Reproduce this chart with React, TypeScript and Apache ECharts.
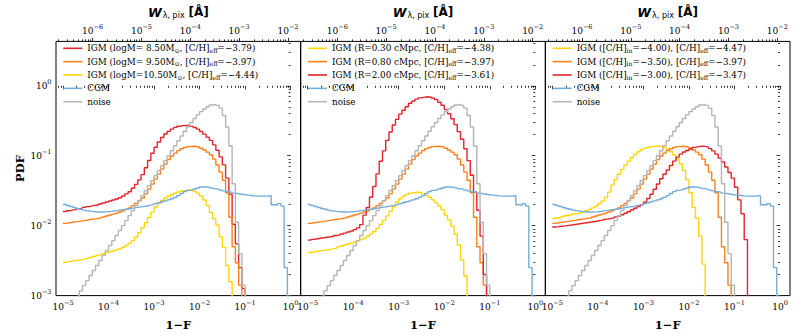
import React, { useEffect, useRef } from "react";
import * as echarts from "echarts";

// Histogram bins in log10(1-F): 70 equal bins from 1e-5 to 1e0
const binStart = -5;
const binEnd = 0;

// PDF per bin
const noisePdf = [
  0.00052, 0.00062, 0.00072, 0.00085, 0.00097, 0.00117, 0.00139, 0.00164, 0.00194, 0.00229,
  0.00269, 0.00317, 0.00374, 0.00441, 0.0052, 0.00612, 0.00723, 0.00851, 0.01, 0.0118,
  0.0139, 0.0164, 0.0194, 0.0229, 0.0269, 0.0317, 0.0374, 0.0441, 0.052, 0.0612,
  0.0723, 0.0851, 0.1, 0.118, 0.139, 0.164, 0.192, 0.224, 0.26, 0.299,
  0.34, 0.384, 0.428, 0.467, 0.501, 0.531, 0.54, 0.525, 0.479, 0.376,
  0.257, 0.138, 0.0398, 0.0112, 0.00398, 0.00141, 0, 0, 0, 0,
  0, 0, 0, 0, 0, 0, 0, 0, 0, 0,
];
const cgmPdf = [
  0.0201, 0.01945, 0.0188, 0.0182, 0.01762, 0.01714, 0.0167, 0.0163, 0.016, 0.0158,
  0.01567, 0.01567, 0.01574, 0.01585, 0.016, 0.01626, 0.01652, 0.0168, 0.01706, 0.01734,
  0.01762, 0.01795, 0.01824, 0.01854, 0.01884, 0.01923, 0.01968, 0.02014, 0.02065, 0.02123,
  0.02193, 0.02265, 0.02339, 0.02432, 0.02541, 0.02692, 0.02891, 0.03069, 0.03199, 0.0325,
  0.03342, 0.03451, 0.03565, 0.03589, 0.03556, 0.03467, 0.03381, 0.03304, 0.03221, 0.03141,
  0.03062, 0.02992, 0.02917, 0.02858, 0.02812, 0.02767, 0.02729, 0.02698, 0.02667, 0.02642,
  0.02642, 0.02649, 0.0266, 0.02685, 0.01995, 0.01972, 0.02065, 0.01905, 0.00251, 0.00098,
];
const igmFiducialPdf = [
  0.01079, 0.01099, 0.01117, 0.01135, 0.01153, 0.01172, 0.01191, 0.01213, 0.01233, 0.01253,
  0.01274, 0.01294, 0.0133, 0.01374, 0.01419, 0.01462, 0.0151, 0.01567, 0.01633, 0.0171,
  0.01795, 0.01932, 0.02084, 0.0227, 0.02483, 0.02851, 0.03334, 0.03926, 0.04634, 0.05458,
  0.06442, 0.07586, 0.0879, 0.0991, 0.1089, 0.1183, 0.1256, 0.1312, 0.1349, 0.1365,
  0.1358, 0.133, 0.1282, 0.1208, 0.1125, 0.1035, 0.0893, 0.0736, 0.0583, 0.0447,
  0.0295, 0.0132, 0.005, 0.00295, 0.00141, 0, 0, 0, 0, 0,
  0, 0, 0, 0, 0, 0, 0, 0, 0, 0,
];
const igmLogM850Pdf = [
  0.01596, 0.01637, 0.01671, 0.01698, 0.01742, 0.01782, 0.01828, 0.01875, 0.01919, 0.01963,
  0.01995, 0.02046, 0.02109, 0.02178, 0.02249, 0.02323, 0.0241, 0.02512, 0.02661, 0.02844,
  0.03062, 0.03436, 0.039, 0.04519, 0.0537, 0.06745, 0.0855, 0.1084, 0.1324, 0.1574,
  0.182, 0.2042, 0.2234, 0.2404, 0.2541, 0.2636, 0.2692, 0.271, 0.2704, 0.263,
  0.2529, 0.2399, 0.2223, 0.2037, 0.1845, 0.166, 0.1432, 0.1197, 0.0962, 0.0741,
  0.0479, 0.0282, 0.01047, 0.0055, 0.00251, 0.00126, 0, 0, 0, 0,
  0, 0, 0, 0, 0, 0, 0, 0, 0, 0,
];
const igmLogM1050Pdf = [
  0.003, 0.00306, 0.00311, 0.00316, 0.00321, 0.00327, 0.00333, 0.00341, 0.0035, 0.00363,
  0.00373, 0.00385, 0.00397, 0.0041, 0.00424, 0.00437, 0.00451, 0.00468, 0.00491, 0.00521,
  0.00558, 0.00607, 0.00686, 0.00793, 0.00933, 0.011, 0.0131, 0.01563, 0.01845, 0.02075,
  0.02286, 0.02483, 0.0263, 0.02773, 0.02904, 0.03034, 0.03126, 0.03199, 0.03236, 0.03184,
  0.03076, 0.02917, 0.02649, 0.02328, 0.01945, 0.01549, 0.01259, 0.01023, 0.00692, 0.0049,
  0.00269, 0.00158, 0, 0, 0, 0, 0, 0, 0, 0,
  0, 0, 0, 0, 0, 0, 0, 0, 0, 0,
];
const igmR030Pdf = [
  0.00408, 0.00421, 0.0043, 0.00437, 0.00444, 0.00451, 0.00459, 0.00469, 0.00479, 0.00497,
  0.00513, 0.0053, 0.00546, 0.00562, 0.00585, 0.00608, 0.00634, 0.00661, 0.00705, 0.0076,
  0.00826, 0.00916, 0.01038, 0.01191, 0.0138, 0.016, 0.01866, 0.02163, 0.02427, 0.02636,
  0.02799, 0.02917, 0.02979, 0.03006, 0.02979, 0.02844, 0.0271, 0.02541, 0.02344, 0.02123,
  0.01923, 0.01694, 0.01416, 0.0121, 0.00986, 0.00759, 0.0053, 0.00324, 0.00191, 0,
  0, 0, 0, 0, 0, 0, 0, 0, 0, 0,
  0, 0, 0, 0, 0, 0, 0, 0, 0, 0,
];
const igmR200Pdf = [
  0.00621, 0.00637, 0.0065, 0.00661, 0.00671, 0.00682, 0.00693, 0.00706, 0.00723, 0.0074,
  0.00759, 0.00783, 0.00811, 0.00838, 0.00877, 0.00929, 0.01035, 0.01413, 0.0182, 0.0257,
  0.0363, 0.055, 0.0832, 0.1175, 0.166, 0.2188, 0.2754, 0.3311, 0.3936, 0.4467,
  0.5012, 0.5623, 0.6067, 0.6457, 0.673, 0.6887, 0.6982, 0.6887, 0.6683, 0.6353,
  0.5821, 0.5272, 0.4571, 0.3981, 0.3388, 0.2786, 0.2213, 0.1718, 0.1259, 0.0851,
  0.0525, 0.0302, 0.0166, 0.00708, 0.002, 0, 0, 0, 0, 0,
  0, 0, 0, 0, 0, 0, 0, 0, 0, 0,
];
const igmCH400Pdf = [
  0.01268, 0.013, 0.0133, 0.01365, 0.014, 0.01432, 0.01469, 0.015, 0.01531, 0.01585,
  0.01641, 0.0171, 0.01799, 0.01905, 0.0206, 0.02239, 0.02541, 0.0302, 0.038, 0.0457,
  0.0543, 0.0638, 0.0735, 0.0838, 0.0944, 0.1042, 0.1138, 0.1222, 0.1276, 0.1318,
  0.1352, 0.1365, 0.1368, 0.1358, 0.1324, 0.1247, 0.1138, 0.1023, 0.0902, 0.0767,
  0.0617, 0.0457, 0.0295, 0.0182, 0.0129, 0.00708, 0.00282, 0, 0, 0,
  0, 0, 0, 0, 0, 0, 0, 0, 0, 0,
  0, 0, 0, 0, 0, 0, 0, 0, 0, 0,
];
const igmCH300Pdf = [
  0.00957, 0.00968, 0.00982, 0.00995, 0.01009, 0.01023, 0.01038, 0.01057, 0.01074, 0.01091,
  0.01109, 0.01127, 0.01146, 0.01167, 0.01189, 0.01213, 0.01242, 0.01265, 0.01291, 0.01337,
  0.01377, 0.01432, 0.01503, 0.01585, 0.01679, 0.01778, 0.01884, 0.01995, 0.02163, 0.02443,
  0.02818, 0.03311, 0.03936, 0.04677, 0.0543, 0.06266, 0.07261, 0.08375, 0.0955, 0.1054,
  0.113, 0.1191, 0.125, 0.1318, 0.1349, 0.1368, 0.1361, 0.133, 0.1265, 0.1172,
  0.1054, 0.0923, 0.0813, 0.069, 0.0575, 0.0479, 0.0355, 0.0234, 0.0148, 0.00631,
  0, 0, 0, 0, 0, 0, 0, 0, 0, 0,
];

// Tick exponents (labels are 10^n)
const xTickExponents = [-5, -4, -3, -2, -1, 0];
const wTickExponents = [-6, -5, -4, -3, -2];
const yTickExponents = [-3, -2, -1, 0];
const minorMultipliers = [2, 3, 4, 5, 6, 7, 8, 9];

// Legend texts
const panel1Labels = [
  "IGM (logM= 8.50M{s|⊙}, [C/H]{s|eff}=−3.79)",
  "IGM (logM= 9.50M{s|⊙}, [C/H]{s|eff}=−3.97)",
  "IGM (logM=10.50M{s|⊙}, [C/H]{s|eff}=−4.44)",
  "CGM",
  "noise",
];
const panel2Labels = [
  "IGM (R=0.30 cMpc, [C/H]{s|eff}=−4.38)",
  "IGM (R=0.80 cMpc, [C/H]{s|eff}=−3.97)",
  "IGM (R=2.00 cMpc, [C/H]{s|eff}=−3.61)",
  "CGM",
  "noise",
];
const panel3Labels = [
  "IGM ([C/H]{s|in}=−4.00), [C/H]{s|eff}=−4.47)",
  "IGM ([C/H]{s|in}=−3.50), [C/H]{s|eff}=−3.97)",
  "IGM ([C/H]{s|in}=−3.00), [C/H]{s|eff}=−3.47)",
  "CGM",
  "noise",
];

const RED = "#e3242b";
const ORANGE = "#ff8019";
const YELLOW = "#ffd60a";
const BLUE = "#73acd9";
const GRAY = "#b5b5b5";

// Axis ranges in log10 space
const X_RANGE = [-5.154, 0.22];
const W_RANGE = [-6.75, -1.74];
const Y_RANGE = [-3, 0.635];

const GRID_LEFT = 56;
const GRID_W = 244.67;
const GRID_TOP = 36;
const GRID_H = 265;

const SERIF = "DejaVu Serif";

function minorTicks(range: number[]) {
  const out: number[] = [];
  for (let n = Math.floor(range[0]); n <= Math.ceil(range[1]); n++) {
    for (const m of minorMultipliers) {
      const v = n + Math.log10(m);
      if (v > range[0] && v < range[1]) out.push(v);
    }
  }
  return out;
}

function powLabel(v: number) {
  const e = Math.round(v);
  return e < 0 ? `{b|10}{s|−${-e}}` : `{b|10}{s|${e}}`;
}

const tickRich = {
  b: { fontFamily: SERIF, fontSize: 9, lineHeight: 12, color: "#000" },
  s: { fontFamily: SERIF, fontSize: 6.5, lineHeight: 12, padding: [0, 0, 8, 0], color: "#000" },
};

function stepData(values: number[]) {
  const below = Y_RANGE[0] - 3;
  const w = (binEnd - binStart) / values.length;
  const pts: number[][] = values.map((v, k) => [binStart + k * w, v > 0 ? Math.log10(v) : below]);
  const last = values[values.length - 1];
  pts.push([binEnd, last > 0 ? Math.log10(last) : below]);
  pts.push([binEnd, below]);
  return pts;
}

function buildOption() {
  const panels = [
    {
      labels: panel1Labels,
      curves: [igmLogM850Pdf, igmFiducialPdf, igmLogM1050Pdf, cgmPdf, noisePdf],
      colors: [RED, ORANGE, YELLOW, BLUE, GRAY],
    },
    {
      labels: panel2Labels,
      curves: [igmR030Pdf, igmFiducialPdf, igmR200Pdf, cgmPdf, noisePdf],
      colors: [YELLOW, ORANGE, RED, BLUE, GRAY],
    },
    {
      labels: panel3Labels,
      curves: [igmCH400Pdf, igmFiducialPdf, igmCH300Pdf, cgmPdf, noisePdf],
      colors: [YELLOW, ORANGE, RED, BLUE, GRAY],
    },
  ];

  const grid: any[] = [];
  const xAxis: any[] = [];
  const yAxis: any[] = [];
  const series: any[] = [];
  const legend: any[] = [];
  const labelOf: Record<string, string> = {};

  const tickLine = { color: "#000", width: 0.8 };
  const xMinor = minorTicks(X_RANGE);
  const wMinor = minorTicks(W_RANGE);
  const yMinor = minorTicks(Y_RANGE);

  panels.forEach((p, i) => {
    const left = GRID_LEFT + i * GRID_W;
    grid.push({
      left,
      top: GRID_TOP,
      width: GRID_W,
      height: GRID_H,
      show: true,
      borderColor: "#000",
      borderWidth: 1,
      backgroundColor: "transparent",
    });
    const common = { type: "value", gridIndex: i, axisLine: { show: false }, splitLine: { show: false } };
    xAxis.push({
      ...common,
      position: "bottom",
      min: X_RANGE[0],
      max: X_RANGE[1],
      axisTick: { show: true, customValues: xTickExponents, length: 3.5, lineStyle: tickLine },
      axisLabel: { show: true, customValues: xTickExponents, formatter: powLabel, margin: 5, rich: tickRich },
      name: "1−F",
      nameLocation: "middle",
      nameGap: 18.5,
      nameTextStyle: { fontFamily: SERIF, fontWeight: "bold", fontSize: 11.5, color: "#000" },
    });
    xAxis.push({
      ...common,
      position: "bottom",
      min: X_RANGE[0],
      max: X_RANGE[1],
      axisTick: { show: true, customValues: xMinor, length: 2, lineStyle: tickLine },
      axisLabel: { show: false },
    });
    xAxis.push({
      ...common,
      position: "top",
      min: W_RANGE[0],
      max: W_RANGE[1],
      axisTick: { show: true, customValues: wTickExponents, length: 3.5, lineStyle: tickLine },
      axisLabel: { show: true, customValues: wTickExponents, formatter: powLabel, margin: 4, rich: tickRich },
      name: "{w|W}{ws|λ, pix} {t|[Å]}",
      nameLocation: "middle",
      nameGap: 17,
      nameTextStyle: {
        fontFamily: "DejaVu Sans",
        fontSize: 12,
        color: "#000",
        rich: {
          w: { fontFamily: "DejaVu Sans", fontStyle: "italic", fontWeight: "bold", fontSize: 12.5, lineHeight: 16, color: "#000" },
          ws: { fontFamily: "DejaVu Sans", fontSize: 8, lineHeight: 16, padding: [6, 0, 0, 1], color: "#000" },
          t: { fontFamily: "DejaVu Sans", fontWeight: "bold", fontSize: 12, lineHeight: 16, color: "#000" },
        },
      },
    });
    xAxis.push({
      ...common,
      position: "top",
      min: W_RANGE[0],
      max: W_RANGE[1],
      axisTick: { show: true, customValues: wMinor, length: 2, lineStyle: tickLine },
      axisLabel: { show: false },
    });
    yAxis.push({
      ...common,
      position: "left",
      min: Y_RANGE[0],
      max: Y_RANGE[1],
      axisTick: { show: true, customValues: yTickExponents, length: 3.5, lineStyle: tickLine },
      axisLabel: {
        show: i === 0,
        customValues: yTickExponents,
        formatter: powLabel,
        margin: 4.5,
        rich: tickRich,
      },
      name: i === 0 ? "PDF" : "",
      nameLocation: "middle",
      nameGap: 30,
      nameTextStyle: { fontFamily: SERIF, fontWeight: "bold", fontSize: 11.5, color: "#000" },
    });
    yAxis.push({
      ...common,
      position: "left",
      min: Y_RANGE[0],
      max: Y_RANGE[1],
      axisTick: { show: true, customValues: yMinor, length: 2, lineStyle: tickLine },
      axisLabel: { show: false },
    });

    const names: string[] = [];
    p.curves.forEach((values, j) => {
      const name = `p${i}c${j}`;
      names.push(name);
      labelOf[name] = p.labels[j];
      series.push({
        type: "line",
        name,
        xAxisIndex: i * 4,
        yAxisIndex: i * 2,
        data: stepData(values),
        step: "end",
        symbol: "none",
        showSymbol: false,
        color: p.colors[j],
        lineStyle: { color: p.colors[j], width: 1.4 },
        clip: true,
        z: 2 + j,
      });
    });

    legend.push({
      orient: "vertical",
      left: left + 7.3,
      top: 42.8,
      padding: 0,
      itemGap: 2.35,
      itemWidth: 19,
      itemHeight: 1.6,
      icon: "rect",
      selectedMode: false,
      data: names,
      formatter: (n: string) => labelOf[n],
      textStyle: {
        fontFamily: SERIF,
        fontSize: 8.8,
        lineHeight: 11,
        color: "#000",
        rich: {
          s: { fontFamily: SERIF, fontSize: 6.2, lineHeight: 11, padding: [4, 0, 0, 0], color: "#000" },
        },
      },
    });
  });

  return {
    animation: false,
    backgroundColor: "#fff",
    textStyle: { fontFamily: SERIF },
    grid,
    xAxis,
    yAxis,
    legend,
    series,
  };
}

export default function App() {
  const ref = useRef<HTMLDivElement>(null);
  useEffect(() => {
    document.body.style.margin = "0";
    const chart = echarts.init(ref.current as HTMLDivElement, null, { renderer: "svg" });
    chart.setOption(buildOption() as any);
    return () => chart.dispose();
  }, []);
  return <div ref={ref} style={{ width: 806, height: 336 }} />;
}
